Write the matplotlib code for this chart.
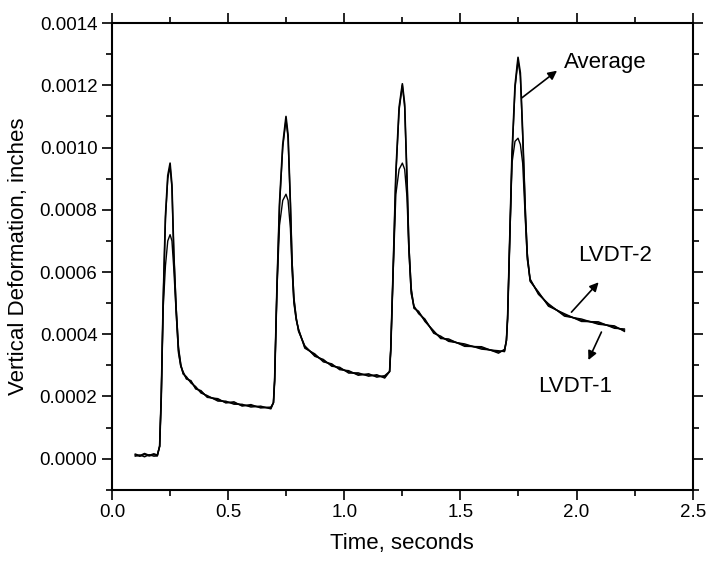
import matplotlib
matplotlib.use("Agg")
import matplotlib.pyplot as plt
from matplotlib.ticker import MultipleLocator, FormatStrFormatter

plt.rcParams['font.family'] = ['Liberation Sans', 'DejaVu Sans']

# time values (seconds), shared by the three traces
time_s = [0.10, 0.12, 0.14, 0.16, 0.18, 0.195,
          0.205, 0.212, 0.22, 0.23, 0.24, 0.25, 0.258, 0.266, 0.276, 0.286, 0.296, 0.306,
          0.32, 0.34, 0.36, 0.383, 0.41, 0.456, 0.49, 0.525, 0.56, 0.598, 0.64, 0.684, 0.695,
          0.70, 0.71, 0.721, 0.735, 0.749, 0.758, 0.768, 0.775, 0.783, 0.793, 0.803,
          0.83, 0.873, 0.91, 0.946, 0.98, 1.019, 1.06, 1.105, 1.14, 1.174, 1.195,
          1.20, 1.21, 1.222, 1.236, 1.25, 1.26, 1.27, 1.278, 1.288, 1.30,
          1.32, 1.347, 1.385, 1.415, 1.449, 1.518, 1.591, 1.664, 1.69, 1.698,
          1.703, 1.712, 1.722, 1.735, 1.748, 1.758, 1.768, 1.78, 1.788, 1.80,
          1.836, 1.879, 1.948, 2.021, 2.094, 2.163, 2.206]

# vertical deformation, inches
average = [0.000012, 0.000008, 0.000014, 0.000009, 0.000013, 0.00001,
           0.00004, 0.0002, 0.0005, 0.00078, 0.00091, 0.00095, 0.00088, 0.00066, 0.00048, 0.00035, 0.0003, 0.000276,
           0.00026, 0.000247, 0.000228, 0.000215, 0.0002, 0.000189, 0.000182, 0.000179, 0.000172, 0.00017, 0.000166, 0.000163, 0.00018,
           0.00025, 0.00055, 0.00082, 0.00101, 0.0011, 0.00104, 0.00082, 0.00063, 0.00051, 0.00045, 0.000413,
           0.000359, 0.000333, 0.000315, 0.000301, 0.00029, 0.000279, 0.000272, 0.000269, 0.000266, 0.000263, 0.00028,
           0.00035, 0.0006, 0.00092, 0.00113, 0.001205, 0.00114, 0.0009, 0.00068, 0.00054, 0.000487,
           0.00047, 0.000445, 0.000407, 0.00039, 0.000381, 0.000365, 0.000356, 0.000343, 0.000348, 0.00038,
           0.00045, 0.0007, 0.00098, 0.0012, 0.00129, 0.00124, 0.00105, 0.00078, 0.00065, 0.000574,
           0.000532, 0.000494, 0.000462, 0.000445, 0.000436, 0.000423, 0.000413]

lvdt1 = [0.000008, 0.000012, 0.000006, 0.000013, 0.000008, 0.000009,
         0.00004, 0.0002, 0.00048, 0.00062, 0.0007, 0.00072, 0.0007, 0.00061, 0.00047, 0.00034, 0.000296, 0.00028,
         0.000256, 0.000251, 0.000224, 0.000219, 0.000197, 0.000193, 0.000179, 0.000183, 0.000169, 0.000174, 0.000163, 0.000166, 0.00018,
         0.00025, 0.00054, 0.00075, 0.00083, 0.00085, 0.00083, 0.00074, 0.00061, 0.0005, 0.000446, 0.000417,
         0.000355, 0.000337, 0.000311, 0.000305, 0.000286, 0.000283, 0.000268, 0.000273, 0.000262, 0.000267, 0.00028,
         0.00035, 0.00059, 0.00085, 0.00093, 0.00095, 0.00093, 0.00084, 0.00067, 0.00053, 0.000491,
         0.000466, 0.000449, 0.000403, 0.000394, 0.000377, 0.000369, 0.000352, 0.000347, 0.000344, 0.00038,
         0.00045, 0.00069, 0.00095, 0.00102, 0.00103, 0.00101, 0.00095, 0.00076, 0.00064, 0.000578,
         0.000528, 0.000498, 0.000458, 0.000449, 0.000432, 0.000427, 0.000409]

lvdt2 = [0.000015, 0.00001, 0.000017, 0.000011, 0.000016, 0.000012,
         0.00004, 0.0002, 0.0005, 0.00077, 0.0009, 0.00094, 0.00087, 0.00066, 0.00049, 0.00036, 0.000304, 0.000272,
         0.000264, 0.000243, 0.000232, 0.000211, 0.000203, 0.000185, 0.000185, 0.000175, 0.000175, 0.000166, 0.000169, 0.00016, 0.00018,
         0.00025, 0.00055, 0.00081, 0.001, 0.00109, 0.00103, 0.00082, 0.00064, 0.00052, 0.000454, 0.000409,
         0.000363, 0.000329, 0.000319, 0.000297, 0.000294, 0.000275, 0.000276, 0.000265, 0.00027, 0.000259, 0.00028,
         0.00035, 0.0006, 0.00091, 0.00112, 0.0012, 0.00113, 0.0009, 0.00069, 0.00055, 0.000483,
         0.000474, 0.000441, 0.000411, 0.000386, 0.000385, 0.000361, 0.00036, 0.000339, 0.000352, 0.00038,
         0.00045, 0.0007, 0.00097, 0.00119, 0.00128, 0.00123, 0.00104, 0.00079, 0.00066, 0.00057,
         0.000536, 0.00049, 0.000466, 0.000441, 0.00044, 0.000419, 0.000417]

fig = plt.figure(figsize=(7.09, 5.63), dpi=100)
ax = fig.add_axes([0.158, 0.130, 0.819, 0.829])

ax.plot(time_s, lvdt1, color='black', lw=1.0)
ax.plot(time_s, lvdt2, color='black', lw=1.0)
ax.plot(time_s, average, color='black', lw=1.2)

ax.set_xlim(0, 2.5)
ax.set_ylim(-0.0001, 0.0014)
ax.xaxis.set_major_locator(MultipleLocator(0.5))
ax.xaxis.set_minor_locator(MultipleLocator(0.25))
ax.yaxis.set_major_locator(MultipleLocator(0.0002))
ax.yaxis.set_minor_locator(MultipleLocator(0.0001))
ax.xaxis.set_major_formatter(FormatStrFormatter('%.1f'))
ax.yaxis.set_major_formatter(FormatStrFormatter('%.4f'))

for s in ax.spines.values():
    s.set_linewidth(1.5)
ax.tick_params(which='both', direction='out', top=True, right=True, width=1.2)
ax.tick_params(which='major', length=7, labelsize=13.5)
ax.tick_params(which='minor', length=4)

ax.set_xlabel('Time, seconds', fontsize=16, labelpad=8)
ax.set_ylabel('Vertical Deformation, inches', fontsize=16, labelpad=8)

arrow = dict(arrowstyle='-|>', color='black', lw=1.2, mutation_scale=13, shrinkA=0, shrinkB=0)
ax.annotate('', xy=(1.916, 0.001247), xytext=(1.765, 0.00116), arrowprops=arrow)
ax.text(1.946, 0.001272, 'Average', fontsize=16, va='center', ha='left')
ax.annotate('', xy=(2.095, 0.000567), xytext=(1.978, 0.000471), arrowprops=arrow)
ax.text(2.008, 0.000654, 'LVDT-2', fontsize=16, va='center', ha='left')
ax.annotate('', xy=(2.051, 0.000317), xytext=(2.107, 0.000407), arrowprops=arrow)
ax.text(1.836, 0.000231, 'LVDT-1', fontsize=16, va='center', ha='left')

fig.savefig('out.png', dpi=100)
